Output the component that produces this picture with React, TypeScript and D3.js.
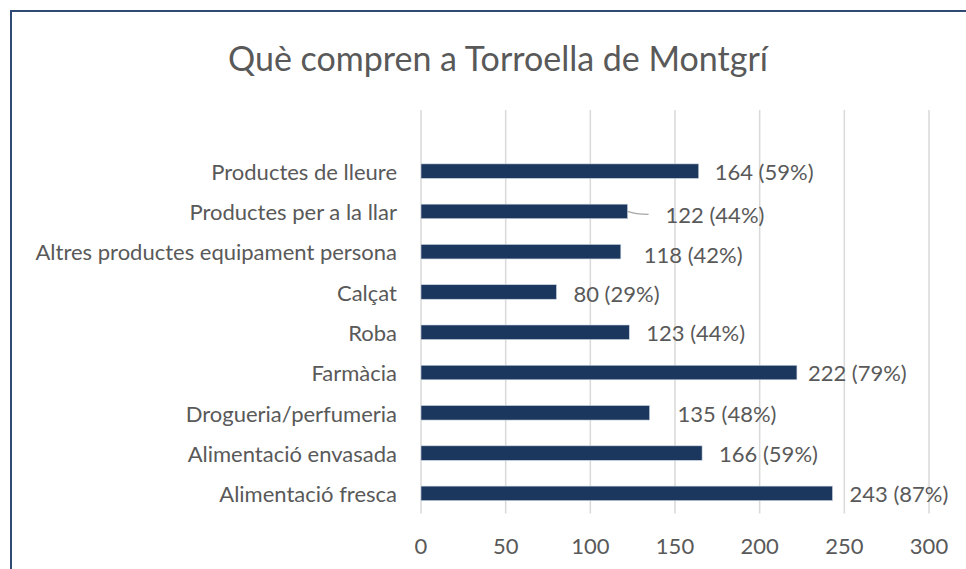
import React, { useRef, useEffect } from 'react';
import * as d3 from 'd3';

// categories, top to bottom as they appear
const categories = [
  'Productes de lleure',
  'Productes per a la llar',
  'Altres productes equipament persona',
  'Calçat',
  'Roba',
  'Farmàcia',
  'Drogueria/perfumeria',
  'Alimentació envasada',
  'Alimentació fresca',
];
const counts = [164, 122, 118, 80, 123, 222, 135, 166, 243];
const percents = [59, 44, 42, 29, 44, 79, 48, 59, 87];
const xTicks = [0, 50, 100, 150, 200, 250, 300];

// labels were dragged by hand in the original, so keep their nudges apart
const labelDx = [16, 38, 23, 17, 17, 11, 28, 17, 17];
const labelDy = [1, 4, 4, 2, 1, 1, 1, 1, 1];

const FONT = 'Lato, "Open Sans", sans-serif';
const TEXT = '#595959';
const LABEL_SIZE = '22px';

const App = () => {
  const ref = useRef<SVGSVGElement>(null);

  useEffect(() => {
    const svg = d3.select(ref.current);
    svg.selectAll('*').remove();

    const rows = categories.map((c, i) => ({ cat: c, value: counts[i], pct: percents[i], dx: labelDx[i], dy: labelDy[i] }));

    const gridTop = 110;
    const plotTop = 151;
    const plotBottom = 513.5;

    const x = d3.scaleLinear().domain([0, 300]).range([421, 929]);
    const y = d3.scaleBand<string>()
      .domain(categories)
      .range([plotTop, plotBottom])
      .paddingInner(0.64)
      .paddingOuter(0.32);

    // chart frame (runs off the right and bottom of the picture)
    svg.append('rect')
      .attr('x', 11).attr('y', 11)
      .attr('width', 1100).attr('height', 700)
      .attr('fill', '#fff')
      .attr('stroke', '#2f4a73')
      .attr('stroke-width', 2);

    svg.append('text')
      .attr('x', 498).attr('y', 71)
      .attr('text-anchor', 'middle')
      .style('font-family', FONT)
      .style('font-size', '34px')
      .style('fill', TEXT)
      .text('Què compren a Torroella de Montgrí');

    // vertical gridlines
    svg.append('g')
      .selectAll('line')
      .data(xTicks)
      .join('line')
      .attr('x1', d => x(d)).attr('x2', d => x(d))
      .attr('y1', gridTop).attr('y2', plotBottom)
      .attr('stroke', '#d9d9d9')
      .attr('stroke-width', 1.5);

    // x axis tick labels
    svg.append('g')
      .selectAll('text')
      .data(xTicks)
      .join('text')
      .attr('x', d => x(d))
      .attr('y', 554)
      .attr('text-anchor', 'middle')
      .style('font-family', FONT)
      .style('font-size', LABEL_SIZE)
      .style('fill', TEXT)
      .text(d => d);

    // category labels
    svg.append('g')
      .selectAll('text')
      .data(rows)
      .join('text')
      .attr('x', 397)
      .attr('y', d => (y(d.cat) as number) + y.bandwidth() / 2 + 1)
      .attr('dy', '0.35em')
      .attr('text-anchor', 'end')
      .style('font-family', FONT)
      .style('font-size', LABEL_SIZE)
      .style('fill', TEXT)
      .text(d => d.cat);

    // bars
    svg.append('g')
      .selectAll('rect')
      .data(rows)
      .join('rect')
      .attr('x', x(0))
      .attr('y', d => y(d.cat) as number)
      .attr('width', d => x(d.value) - x(0))
      .attr('height', y.bandwidth())
      .attr('fill', '#1b375e')
      .attr('stroke', '#c9d3e0')
      .attr('stroke-width', 0.6);

    // leader line for the label that was moved away from its bar
    const moved = rows[1];
    const lx0 = x(moved.value);
    const ly0 = (y(moved.cat) as number) + y.bandwidth() / 2;
    svg.append('path')
      .attr('d', `M${lx0},${ly0} Q${lx0 + 8},${ly0 + 3} ${lx0 + 21},${ly0 + 3}`)
      .attr('fill', 'none')
      .attr('stroke', '#a6a6a6')
      .attr('stroke-width', 1.3);

    // value labels
    svg.append('g')
      .selectAll('text')
      .data(rows)
      .join('text')
      .attr('x', d => x(d.value) + d.dx)
      .attr('y', d => (y(d.cat) as number) + y.bandwidth() / 2 + d.dy)
      .attr('dy', '0.35em')
      .style('font-family', FONT)
      .style('font-size', LABEL_SIZE)
      .style('fill', TEXT)
      .text(d => `${d.value} (${d.pct}%)`);
  }, []);

  return (
    <svg ref={ref} width={966} height={569}
      style={{ position: 'absolute', left: 0, top: 0, background: '#fff' }} />
  );
};

export default App;
